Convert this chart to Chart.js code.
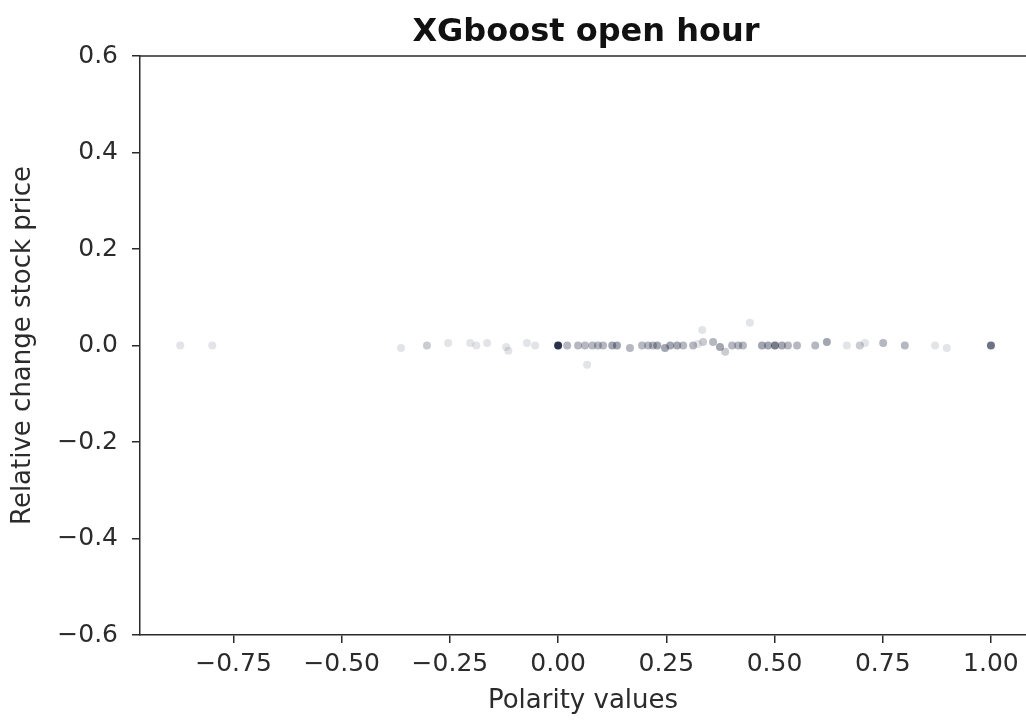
<!DOCTYPE html>
<html>
<head>
<meta charset="utf-8">
<script src="https://cdn.jsdelivr.net/npm/chart.js@4/dist/chart.umd.min.js"></script>
<style>
  html, body { margin: 0; padding: 0; background: #fff; overflow: hidden; }
  canvas { display: block; }
</style>
</head>
<body>
<canvas id="scatter" width="1026" height="720"></canvas>
<script>
// Polarity value of each point
const polarity = [
  -0.873, -0.799, -0.363, -0.303, -0.254, -0.203, -0.189, -0.164, -0.120, -0.115,
  -0.072, -0.053, 0.000, 0.021, 0.046, 0.062, 0.079, 0.092, 0.104, 0.125,
  0.136, 0.166, 0.067, 0.194, 0.208, 0.219, 0.229, 0.247, 0.259, 0.275,
  0.289, 0.312, 0.323, 0.335, 0.333, 0.358, 0.374, 0.386, 0.402, 0.416,
  0.427, 0.443, 0.471, 0.485, 0.501, 0.517, 0.531, 0.552, 0.594, 0.621,
  0.667, 0.697, 0.709, 0.751, 0.801, 0.871, 0.898, 1.000
];
// Relative change of stock price
const priceChange = [
  0.000, 0.000, -0.005, 0.000, 0.005, 0.005, 0.000, 0.005, -0.003, -0.011,
  0.005, 0.000, 0.000, 0.000, 0.000, 0.000, 0.000, 0.000, 0.000, 0.000,
  0.000, -0.005, -0.040, 0.000, 0.000, 0.000, 0.000, -0.005, 0.000, 0.000,
  0.000, 0.000, 0.003, 0.007, 0.032, 0.007, -0.003, -0.013, 0.000, 0.000,
  0.000, 0.047, 0.000, 0.000, 0.000, 0.000, 0.000, 0.000, 0.000, 0.007,
  0.000, 0.000, 0.005, 0.005, 0.000, 0.000, -0.005, 0.000
];
// How many observations overlap at each point (drives the darkness)
const overlap = [
  1, 1, 1, 2, 1, 1, 1, 1, 1, 1,
  1, 1, 28, 3, 3, 3, 3, 3, 3, 4,
  4, 3, 1, 3, 3, 3, 4, 4, 4, 4,
  3, 3, 1, 2, 1, 3, 4, 2, 3, 3,
  3, 1, 4, 4, 7, 4, 3, 3, 3, 4,
  1, 2, 1, 3, 3, 1, 1, 8
];
const xTicks = [-0.75, -0.5, -0.25, 0, 0.25, 0.5, 0.75, 1.0];
const yTicks = [-0.6, -0.4, -0.2, 0.0, 0.2, 0.4, 0.6];

const FONT = "'DejaVu Sans', sans-serif";
const INK = '#2b2b2b';

const points = polarity.map((x, i) => ({ x: x, y: priceChange[i] }));
const pointColors = overlap.map(n => {
  const a = 1 - Math.pow(0.87, n);
  return `rgba(38, 46, 70, ${a.toFixed(3)})`;
});

const minus = s => s.replace('-', '\u2212');

// title above the axes and the top frame line (right spine is cut off)
const frame = {
  id: 'frame',
  afterDraw(chart) {
    const { ctx, chartArea } = chart;
    ctx.save();
    ctx.strokeStyle = INK;
    ctx.lineWidth = 1.5;
    ctx.beginPath();
    ctx.moveTo(chartArea.left, chartArea.top);
    ctx.lineTo(chartArea.right, chartArea.top);
    ctx.stroke();
    ctx.fillStyle = '#111';
    ctx.font = "bold 32px " + FONT;
    ctx.textAlign = 'center';
    ctx.textBaseline = 'alphabetic';
    ctx.fillText('XGboost open hour', 586, 41);
    ctx.restore();
  }
};

new Chart(document.getElementById('scatter'), {
  type: 'scatter',
  data: {
    datasets: [{
      label: 'open hour',
      data: points,
      backgroundColor: pointColors,
      borderWidth: 0,
      pointRadius: 4,
      pointHoverRadius: 4
    }]
  },
  options: {
    responsive: false,
    animation: false,
    layout: { autoPadding: false, padding: { top: 56, right: 0, bottom: 0, left: 0 } },
    plugins: {
      legend: { display: false },
      tooltip: { enabled: false }
    },
    scales: {
      x: {
        type: 'linear',
        min: -0.966,
        max: 1.081,
        afterFit: s => { s.height = 85; s.paddingRight = 0; s.paddingLeft = 0; },
        afterBuildTicks: s => { s.ticks = xTicks.map(v => ({ value: v })); },
        ticks: {
          color: INK,
          font: { family: FONT, size: 25 },
          padding: 6,
          maxRotation: 0,
          autoSkip: false,
          callback: v => minus(Number(v).toFixed(2))
        },
        grid: { drawOnChartArea: false, drawTicks: true, tickLength: 8, color: INK, lineWidth: 1.5 },
        border: { display: true, color: INK, width: 1.5 },
        title: {
          display: true,
          text: 'Polarity values',
          color: INK,
          font: { family: FONT, size: 26 },
          padding: { top: 0, bottom: 3 }
        }
      },
      y: {
        type: 'linear',
        min: -0.6,
        max: 0.6,
        afterFit: s => { s.width = 140; },
        afterBuildTicks: s => { s.ticks = yTicks.map(v => ({ value: v })); },
        ticks: {
          color: INK,
          font: { family: FONT, size: 25 },
          padding: 14,
          autoSkip: false,
          callback: v => minus(Number(v).toFixed(1))
        },
        grid: { drawOnChartArea: false, drawTicks: true, tickLength: 8, color: INK, lineWidth: 1.5 },
        border: { display: true, color: INK, width: 1.5 },
        title: {
          display: true,
          text: 'Relative change stock price',
          color: INK,
          font: { family: FONT, size: 26 },
          padding: { top: 8, bottom: 0 }
        }
      }
    }
  },
  plugins: [frame]
});
</script>
</body>
</html>
